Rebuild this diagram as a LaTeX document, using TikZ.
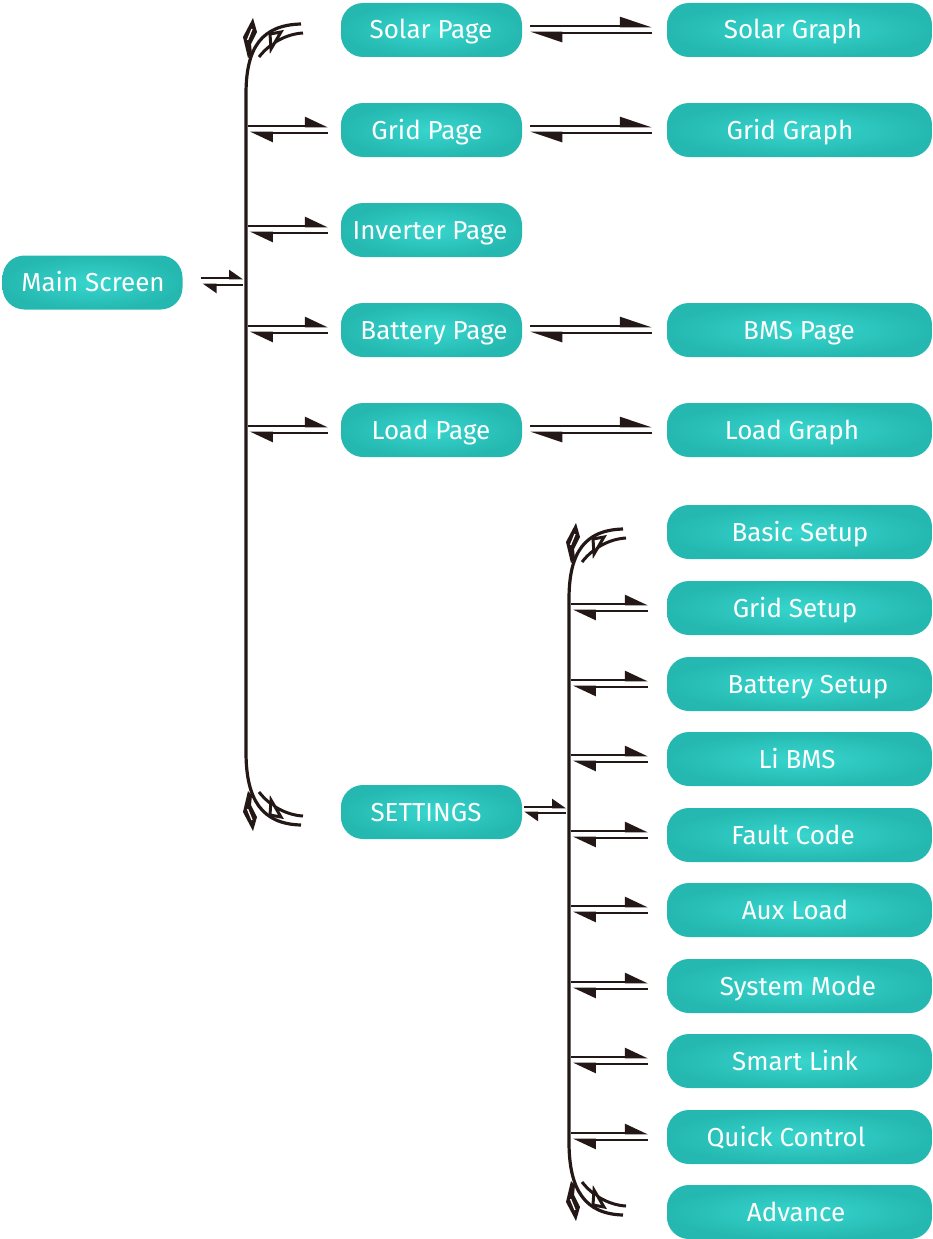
\documentclass[tikz,border=0pt]{standalone}
\usepackage{fontspec}
\setmainfont{Fira Sans}
\usetikzlibrary{arrows.meta}
\definecolor{tealA}{HTML}{38D6CE}
\definecolor{tealB}{HTML}{24B8B0}
\definecolor{ink}{HTML}{231815}
\tikzset{
  box/.style={rounded corners=22pt, inner color=tealA, outer color=tealB, minimum height=54pt, inner sep=0pt, draw=none},
  boxA/.style={box, minimum width=181pt},
  boxB/.style={box, minimum width=265pt},
  boxM/.style={box, minimum width=180pt},
  lab/.style={text=white, font=\fontsize{26}{30}\selectfont, inner sep=0pt, anchor=base},
  ln/.style={draw=ink, line width=2.6pt},
  hA/.style={ln, -{Triangle[harpoon,length=20pt,width=18pt]}},
  hB/.style={ln, -{Triangle[harpoon,length=28pt,width=18pt]}},
  hS/.style={ln, -{Triangle[harpoon,length=12pt,width=16pt]}},
  brk/.style={draw=ink, line width=3.2pt},
  orn/.pic={
    \draw[ink, line width=3pt] (57,9) .. controls (40,10) and (24,19) .. (13,33);
    \fill[ink] (7,-6) -- (-3,13) -- (2,34) -- (6,30) -- (5,20) -- (11,8) -- cycle;
    \draw[white, line width=1.3pt] (1.5,16) -- (6,5);
    \draw[ink, line width=3pt, fill=white, line join=miter] (24,10) -- (35,8) -- (25,25) -- cycle;
  }
}
\begin{document}
\begin{tikzpicture}[x=1pt,y=-1pt]
\useasboundingbox (0,0) rectangle (933,1239);

% boxes
\node[boxM] (main) at (92.5,282.5) {};
\node[lab] (tmain) at (93,291.5) {Main Screen};

\node[boxA] (solar) at (431.5,30) {};
\node[lab] (tsolar) at (431,39) {Solar Page};
\node[boxA] (gridp) at (431.5,130) {};
\node[lab] (tgridp) at (427,139) {Grid Page};
\node[boxA] (inv) at (431.5,230) {};
\node[lab] (tinv) at (430,239) {Inverter Page};
\node[boxA] (bat) at (431.5,330) {};
\node[lab] (tbat) at (434,339) {Battery Page};
\node[boxA] (load) at (431.5,430) {};
\node[lab] (tload) at (431,439) {Load Page};
\node[boxA] (set) at (431.5,812) {};
\node[lab] (tset) at (426,821) {SETTINGS};

\node[boxB] (sg) at (799.5,30) {};
\node[lab] (tsg) at (793,39) {Solar Graph};
\node[boxB] (gg) at (799.5,130) {};
\node[lab] (tgg) at (790,139) {Grid Graph};
\node[boxB] (bms) at (799.5,330) {};
\node[lab] (tbms) at (799,339) {BMS Page};
\node[boxB] (lg) at (799.5,430) {};
\node[lab] (tlg) at (792,439) {Load Graph};

\node[boxB] (s1) at (799.5,532) {};
\node[lab] (ts1) at (800,541) {Basic Setup};
\node[boxB] (s2) at (799.5,608) {};
\node[lab] (ts2) at (795,617) {Grid Setup};
\node[boxB] (s3) at (799.5,684) {};
\node[lab] (ts3) at (808,693) {Battery Setup};
\node[boxB] (s4) at (799.5,759) {};
\node[lab] (ts4) at (797,768) {Li BMS};
\node[boxB] (s5) at (799.5,835) {};
\node[lab] (ts5) at (793,844) {Fault Code};
\node[boxB] (s6) at (799.5,910) {};
\node[lab] (ts6) at (795,919) {Aux Load};
\node[boxB] (s7) at (799.5,986) {};
\node[lab] (ts7) at (798,995) {System Mode};
\node[boxB] (s8) at (799.5,1061) {};
\node[lab] (ts8) at (795,1070) {Smart Link};
\node[boxB] (s9) at (799.5,1137) {};
\node[lab] (ts9) at (786,1146) {Quick Control};
\node[boxB] (s10) at (799.5,1212) {};
\node[lab] (ts10) at (796,1221) {Advance};

% left bracket
\draw[brk] (301,24) .. controls (262,25) and (246,47) .. (246,94) -- (246,752) .. controls (246,800) and (262,824) .. (301,825);
\pic at (246,24) {orn};
\pic[yscale=-1] at (246,825) {orn};

% right bracket
\draw[brk] (623,529) .. controls (585,530) and (569,552) .. (569,599) -- (569,1142) .. controls (569,1190) and (585,1214) .. (623,1215);
\pic at (569,529) {orn};
\pic[yscale=-1] at (569,1215) {orn};

% main screen arrows
\coordinate (Lm) at (243,282.5);
\draw[hS] ([xshift=18pt,yshift=4.5pt]main.east) -- ([yshift=4.5pt]Lm);
\draw[hS] ([yshift=-2.5pt]Lm) -- ([xshift=20pt,yshift=-2.5pt]main.east);

% column 1 arrows
\foreach \n/\y in {gridp/130, inv/230, bat/330, load/430} {
  \coordinate (L\n) at (248,\y);
  \draw[hA] ([yshift=4pt]L\n) -- ([xshift=-13pt,yshift=4pt]\n.west);
  \draw[hA] ([xshift=-13pt,yshift=-3pt]\n.west) -- ([xshift=2pt,yshift=-3pt]L\n);
}

% column 2 -> 3 arrows
\foreach \a/\b in {solar/sg, gridp/gg, bat/bms, load/lg} {
  \draw[hB] ([xshift=8pt,yshift=4pt]\a.east) -- ([xshift=-15pt,yshift=4pt]\b.west);
  \draw[hB] ([xshift=-15pt,yshift=-3pt]\b.west) -- ([xshift=8pt,yshift=-3pt]\a.east);
}

% settings arrows
\coordinate (Rs) at (566,812);
\draw[hS] ([xshift=2pt,yshift=5pt]set.east) -- ([yshift=5pt]Rs);
\draw[hS] ([yshift=-1pt]Rs) -- ([xshift=2pt,yshift=-1pt]set.east);

\foreach \n/\y in {s2/608, s3/684, s4/759, s5/835, s6/910, s7/986, s8/1061, s9/1137} {
  \coordinate (R\n) at (571,\y);
  \draw[hA] ([yshift=4pt]R\n) -- ([xshift=-19pt,yshift=4pt]\n.west);
  \draw[hA] ([xshift=-19pt,yshift=-3pt]\n.west) -- ([xshift=2pt,yshift=-3pt]R\n);
}
\end{tikzpicture}
\end{document}
